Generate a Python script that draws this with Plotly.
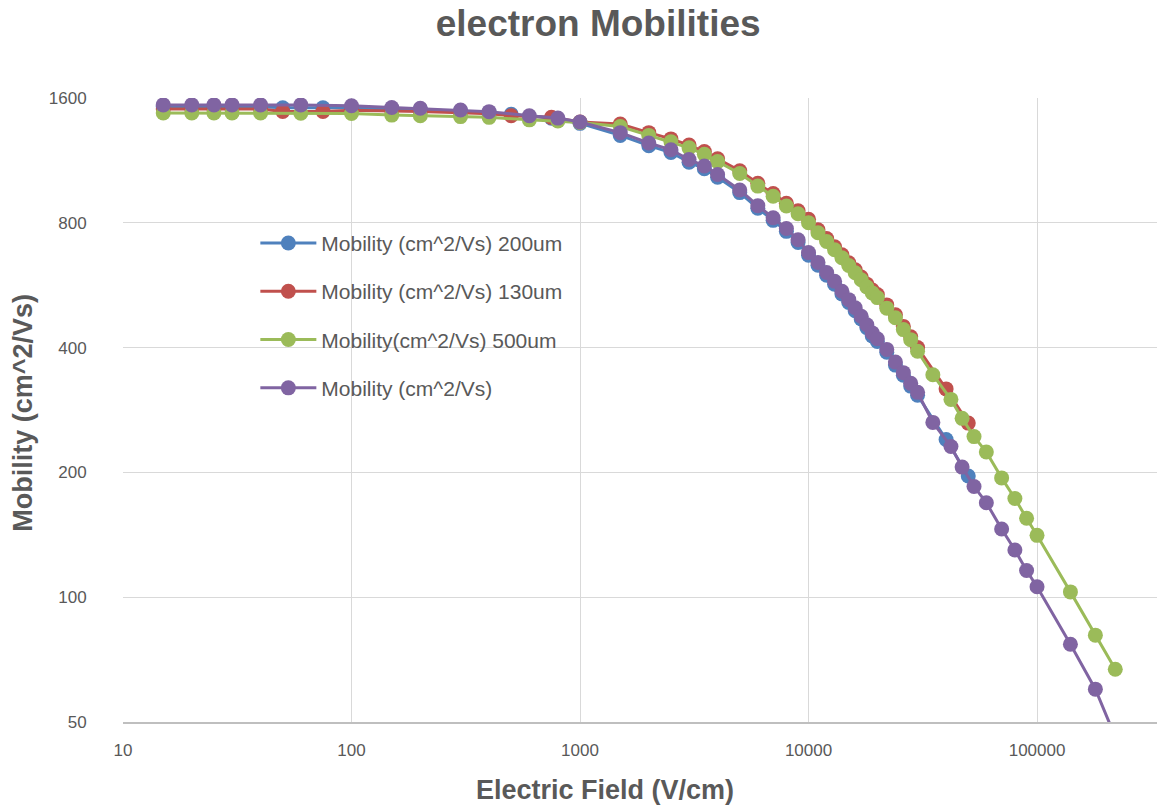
import plotly.graph_objects as go

# Electric field sample points (V/cm)
field_200um = [15, 20, 25, 30, 40, 50, 75, 100, 150, 200, 300, 400, 500, 750,
               1000, 1500, 2000, 2500, 3000, 3500, 4000, 5000, 6000, 7000, 8000, 9000,
               10000, 11000, 12000, 13000, 14000, 15000, 16000, 17000, 18000, 19000, 20000,
               22000, 24000, 26000, 28000, 30000, 40000, 50000]
field_130um = list(field_200um)
field_500um = [15, 20, 25, 30, 40, 60, 100, 150, 200, 300, 400, 600, 800,
               1000, 1500, 2000, 2500, 3000, 3500, 4000, 5000, 6000, 7000, 8000, 9000,
               10000, 11000, 12000, 13000, 14000, 15000, 16000, 17000, 18000, 19000, 20000,
               22000, 24000, 26000, 28000, 30000, 35000, 42000, 47000, 53000, 60000,
               70000, 80000, 90000, 100000, 140000, 180000, 220000]
field_default = list(field_500um)

# Mobility values (cm^2/Vs)
mob_200um = [1525, 1525, 1525, 1525, 1525, 1515, 1515, 1515, 1505, 1500, 1488, 1475, 1462, 1430,
             1390, 1300, 1228, 1182, 1120, 1080, 1030, 946, 867, 811, 763, 717,
             668, 632, 598, 569, 539, 514, 491, 469, 447, 427, 414,
             390, 363, 343, 323, 307, 240, 196]
mob_130um = [1505, 1505, 1505, 1505, 1505, 1485, 1485, 1495, 1490, 1485, 1475, 1465, 1450, 1437,
             1400, 1385, 1320, 1275, 1232, 1188, 1141, 1068, 996, 941, 892, 855,
             816, 770, 733, 700, 670, 641, 616, 592, 569, 551, 537,
             507, 480, 450, 425, 400, 318, 263]
mob_500um = [1472, 1472, 1472, 1472, 1472, 1470, 1468, 1455, 1450, 1443, 1437, 1417, 1408,
             1397, 1365, 1300, 1255, 1213, 1170, 1124, 1052, 981, 927, 878, 841,
             800, 757, 721, 689, 659, 631, 606, 583, 560, 542, 528,
             498, 472, 442, 418, 392, 344, 300, 270, 244, 224,
             194, 173, 155, 141, 103, 81, 67]
mob_default = [1540, 1540, 1540, 1540, 1540, 1540, 1532, 1518, 1512, 1497, 1483, 1450, 1431,
               1400, 1320, 1246, 1200, 1137, 1097, 1046, 960, 880, 823, 775, 728,
               678, 642, 607, 578, 547, 522, 499, 476, 454, 434, 420,
               396, 369, 348, 328, 312, 264, 231, 206, 185, 169,
               146, 130, 116, 106, 77, 60, 46]

series = [
    ("Mobility (cm^2/Vs) 200um", field_200um, mob_200um, "#4F81BD"),
    ("Mobility (cm^2/Vs) 130um", field_130um, mob_130um, "#C0504D"),
    ("Mobility(cm^2/Vs) 500um", field_500um, mob_500um, "#9BBB59"),
    ("Mobility (cm^2/Vs)", field_default, mob_default, "#8064A2"),
]

x_ticks = [10, 100, 1000, 10000, 100000]
y_ticks = [50, 100, 200, 400, 800, 1600]

TEXT = "#595959"
FONT = "Liberation Sans"

fig = go.Figure()
for i, (name, xs, ys, color) in enumerate(series):
    fig.add_trace(go.Scatter(
        x=xs, y=ys, name=name, mode="lines+markers",
        line=dict(color=color, width=3),
        marker=dict(color=color, size=15),
        legendgroup=f"g{i}",
    ))

fig.update_layout(
    width=1157, height=805,
    margin=dict(l=123, r=0, t=98, b=83),
    paper_bgcolor="white", plot_bgcolor="white",
    font=dict(family=FONT, color=TEXT, size=17),
    title=dict(text="<b>electron Mobilities</b>", font=dict(size=37, color=TEXT, family=FONT),
               xref="container", x=0.517, xanchor="center",
               yref="container", y=0.971, yanchor="middle"),
    showlegend=True,
    legend=dict(x=0.128, y=0.80, xanchor="left", yanchor="top",
                bgcolor="rgba(0,0,0,0)", font=dict(size=21, color=TEXT, family=FONT),
                tracegroupgap=18, itemwidth=56),
    xaxis=dict(type="log", range=[1, 5.525], tickvals=x_ticks,
               ticktext=[str(v) for v in x_ticks],
               showgrid=True, gridcolor="#D9D9D9", gridwidth=1,
               showline=True, linecolor="#BFBFBF", linewidth=1.5,
               ticks="outside", ticklen=12, tickcolor="rgba(0,0,0,0)",
               tickfont=dict(size=17, color=TEXT), zeroline=False),
    yaxis=dict(type="log", range=[1.69897, 3.20412], tickvals=y_ticks,
               ticktext=[str(v) for v in y_ticks],
               showgrid=True, gridcolor="#D9D9D9", gridwidth=1,
               showline=False, ticks="outside", ticklen=32, tickcolor="rgba(0,0,0,0)",
               tickfont=dict(size=17, color=TEXT), zeroline=False),
    annotations=[
        dict(text="<b>Electric Field (V/cm)</b>", xref="paper", yref="paper",
             x=0.466, y=-0.109, xanchor="center", yanchor="middle", showarrow=False,
             font=dict(size=27, color=TEXT, family=FONT)),
        dict(text="<b>Mobility (cm^2/Vs)</b>", xref="paper", yref="paper",
             x=-0.097, y=0.495, xanchor="center", yanchor="middle", showarrow=False,
             textangle=-90, font=dict(size=27, color=TEXT, family=FONT)),
    ],
)

fig.write_html("out.html")
